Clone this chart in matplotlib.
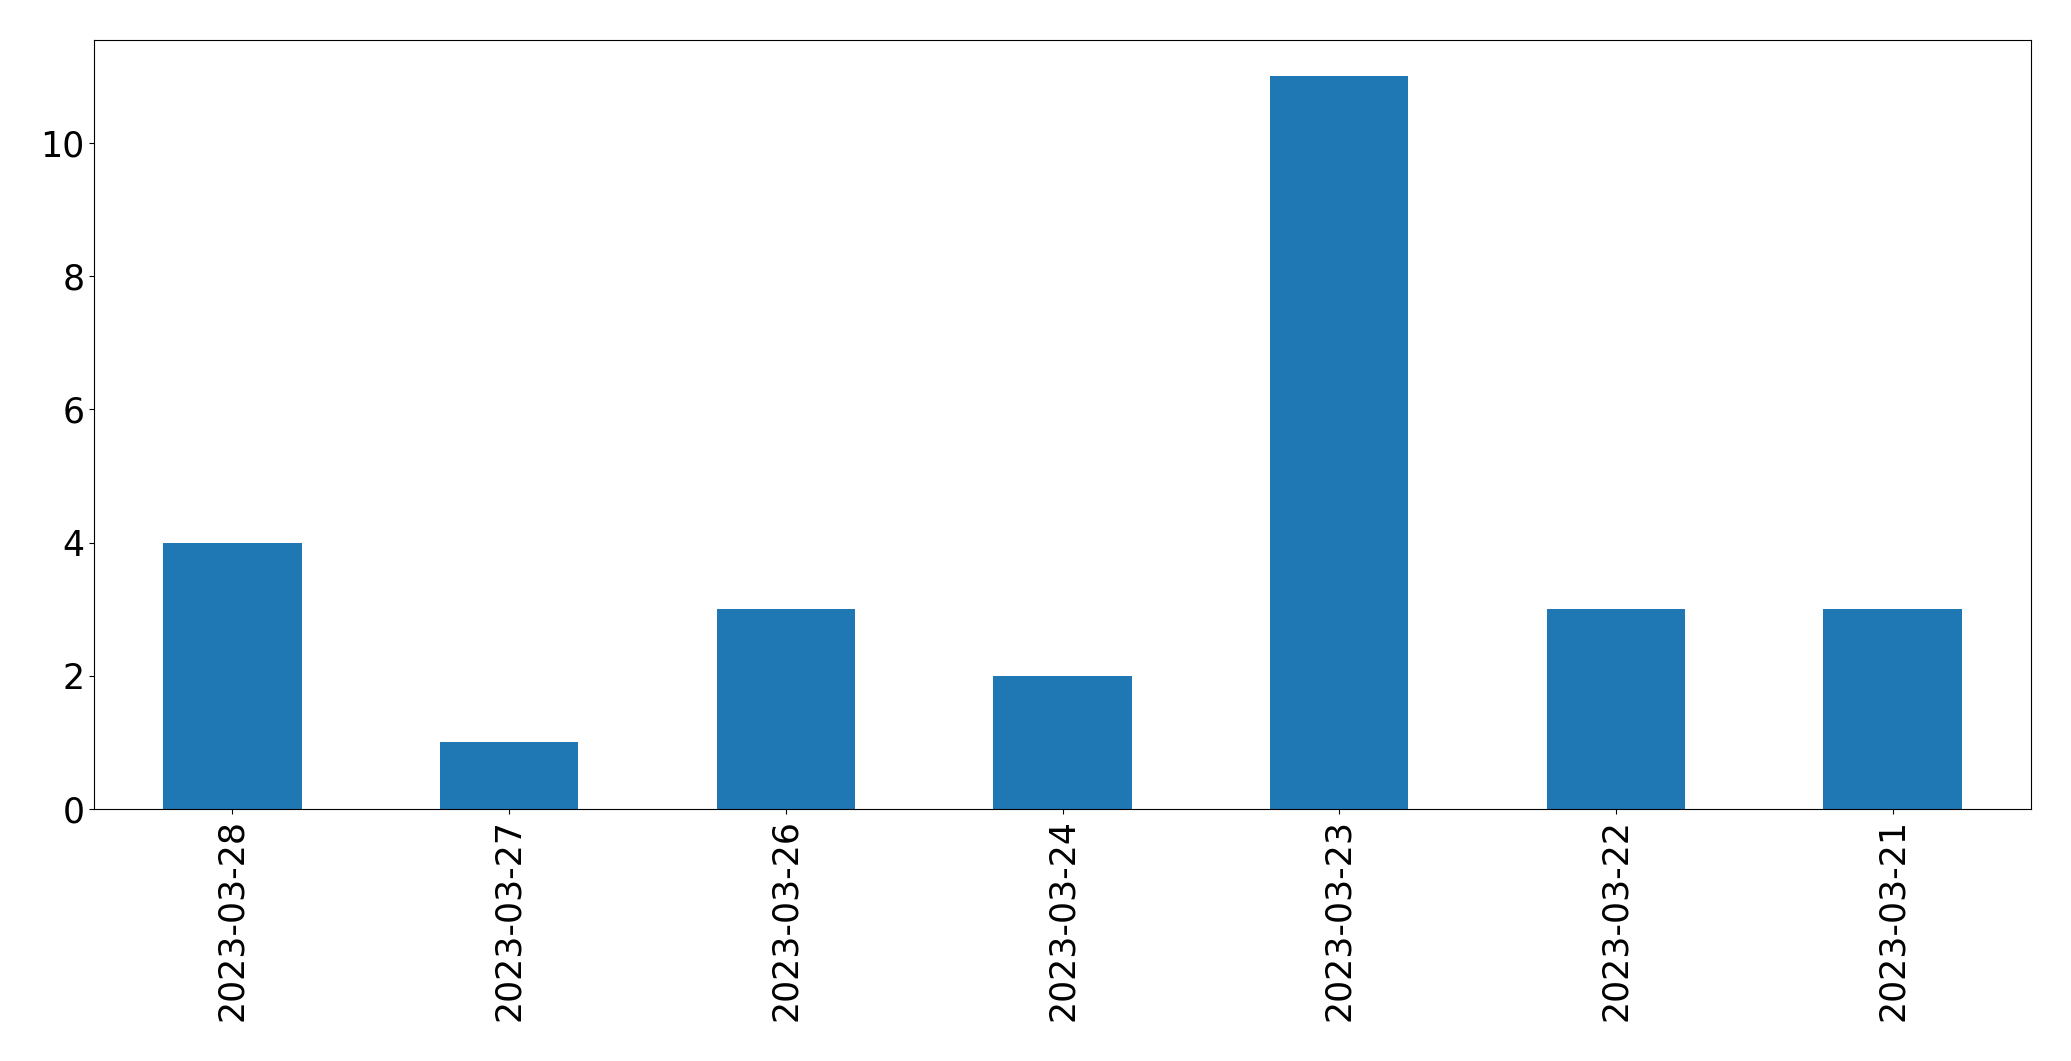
import matplotlib
matplotlib.use('Agg')
import pandas as pd
from matplotlib import pyplot as plt

dates = ['2023-03-28', '2023-03-27', '2023-03-26', '2023-03-24',
         '2023-03-23', '2023-03-22', '2023-03-21']
counts = [4, 1, 3, 2, 11, 3, 3]

s = pd.Series(counts, index=dates)

fig = plt.figure(figsize=(20.71, 10.61), dpi=100)
ax = fig.add_axes([94 / 2071, 1 - 809 / 1061, (2031 - 94) / 2071, (809 - 39.5) / 1061])
s.plot(kind='bar', ax=ax, color='#1f77b4')
ax.tick_params(labelsize=25)

fig.savefig('out.png', dpi=100)
